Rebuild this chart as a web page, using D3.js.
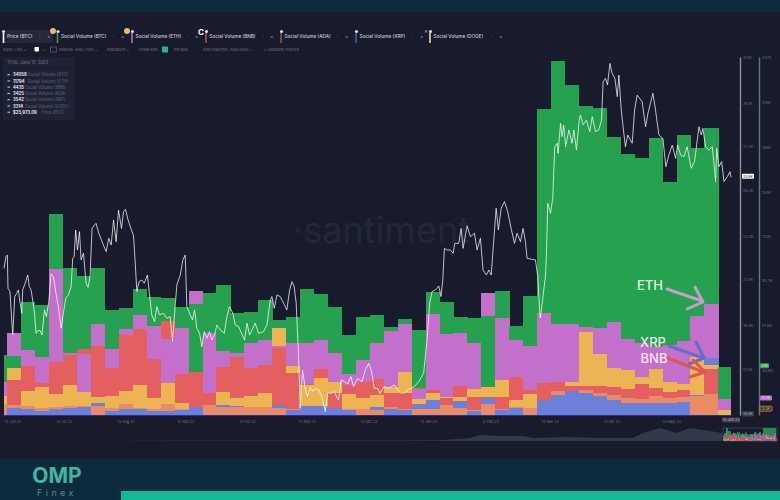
<!DOCTYPE html>
<meta charset="utf-8">
<style>
  html, body { margin: 0; padding: 0; background: #181b2b; }
  svg { display: block; }
  text { font-family: Inter, Roboto, sans-serif; }
</style>
<script src="https://cdn.jsdelivr.net/npm/d3@7"></script>
<svg></svg>

<script>
// weekly social volume, in thousands, one value per bar
var socialBTC = [41.4,40.9,78.2,75.9,138.5,101.7,95.9,101.7,72.5,74.1,86.7,81.7,80.5,74.8,76.6,84.4,89.7,70.2,71.3,79.4,65.6,67.9,86.7,83.5,74.3,55.2,67.9,69,61,66.2,58.7,85.1,77.7,67.9,67.2,68.3,85.8,61.6,82.3,211,244,228,213,212,192,180,177,191,161,193,184,198,33.4];
var socialETH = [23,56.4,44.9,39.8,100.5,43,42.1,62.6,45.5,59.1,69,61.4,52.4,59.8,85.6,56.4,44.4,42.6,49.9,51.8,47.6,49.5,49.5,51.8,43,28.3,38,49.5,58,62.8,18.2,69.5,55.7,56.4,49.5,84.4,66.7,51.8,47.6,70.2,62.8,62.8,61,60.3,64.4,52.4,49.5,46.7,48.3,51.1,68.3,76.4,11];
var socialBNB = [0,24.2,33.8,21.9,36.3,41.4,45.5,47.6,32.2,55.2,59.1,38.6,65.1,28.1,29.9,15.4,33.4,39.8,32.7,34.5,46.5,28.8,21.4,31.5,15,20.7,23,24.8,15.4,15.4,18.4,17.3,11.5,20,12.7,12.2,12.7,26.5,17.3,21.9,22.5,20,20,20,19.1,17.7,21.4,18.4,16.1,17.3,0,31.5,0];
var socialDOGE = [13.1,32.7,16.6,19.6,14.3,20.7,16.1,12.7,13.3,16.8,20.7,11.5,22.3,8,0,0,15.6,11.5,13.3,15,60.3,33.8,20.7,25.3,22.5,14.3,12,13.8,19.1,29.9,11,15.4,12.7,12.7,17.9,19.1,24.2,10.4,14.5,0,0,22.5,57,41.9,32.7,31.1,26.5,31.5,23,21.4,40.3,34.5,3.5];
var socialADA = [7.6,6.9,6.2,4.6,5.8,6.2,6.2,6.2,4.6,7.6,4.6,3.9,7.6,3.9,0,6.9,5.3,5.3,5.3,5.8,4.6,3.9,0,0,0,4.1,4.1,3.5,5.3,4.1,3.9,3.9,6.9,4.6,3.5,7.6,3.9,5.3,4.6,0,16.6,16.8,17.3,15,13.8,11.5,10.8,13.1,11.5,12.2,13.1,14.3,0];
var socialXRP = [0,4.6,4.1,3,3.9,4.6,5.8,8.5,3,3.9,3.9,2.5,2.5,3.5,5.8,0,6.9,6.4,0,0,6.9,3.5,6.4,6.4,4.6,3.5,0,5.3,3.9,3.5,7.6,10.4,0,9.7,3,11.5,3.5,4.6,0,10.4,13.8,16.6,15.4,13.1,10.4,8.5,8,8,8,9.2,13.8,39.1,0];

// BTC price in thousands, and the day (counted from the first tick) of each reading
var priceDay = [0,1,1.7,2,3,3.7,4.4,5.4,6.4,7.2,8.1,8.9,9.4,10.6,11.9,12.7,13.6,14.4,15.3,16.1,17.1,18.1,19.1,20.3,21.3,22.5,23.6,24.8,26.1,27.3,28.7,29.8,31,32.3,33.7,34.5,35.2,36,36.9,37.9,38.7,39.9,41.2,42.2,43.2,44.2,45.4,46.2,47.6,48.9,49.9,51.3,52.6,53.8,55,56.3,57.5,59,60,61,62.3,63.7,65,65.7,66.7,67.8,69.2,70.4,72,73,74.2,75.6,76.7,78.1,80.1,81.8,83.4,84.6,85.9,86.8,88.5,89.8,91,91.8,93.5,94.6,95.7,96.8,98.2,99.3,100.5,101.9,103.2,104.4,105.7,106.9,108.6,110.6,111.9,113.2,114.9,116.1,117.8,118.9,120.8,122,123.3,124.5,126.1,127.8,130.3,132,
  133.7,134.5,135.7,137,138.7,140.4,142,143.4,144.6,145.7,146.7,147.9,148.7,149.9,151.3,152.4,153.8,155.1,156.3,158,159.6,161.3,162.5,164.2,165.8,168,169.3,170.9,172.5,174.2,175.5,177.6,179.7,181.4,183.1,184.4,185.9,187.6,188.9,190.6,193.1,196,197.7,199.3,201,203.2,205.7,208.2,210.7,212.4,213.7,214.9,216.6,218.3,219.4,220.3,221.1,222.4,224.1,225.5,226.3,228.3,229.5,230.5,232.5,234.2,236.2,237.5,239.2,240.5,242.2,243.4,244.6,245.9,247.1,248.2,249.6,251.3,252.9,254.6,256.3,257.6,259.3,260.6,261.8,262.6,265.2,266.8,268,269,269.3,270.4,271.9,
  272.3,273,274.4,275.5,276.5,277.7,278.2,279.4,280.2,281,282,283.6,285.2,286.1,287.4,288.8,289.4,290.8,292.4,294.1,295.3,297,298.6,300,300.8,302,303,304.2,305.3,306.7,307.9,308.7,309.9,311.2,312,313.2,315.4,316.6,317.9,320.4,322.1,323.3,325.8,327.1,328.8,330.8,332.3,333.8,335.5,337.2,338.2,339.7,341.4,343,345,346.7,348.9,350.1,350.9,352.2,353.9,355.6,357.3,357.8,358.9,360.3,361.5,363.1,364.5,365];
var priceBTC = [21.89,22.4,22.47,21.02,20.88,19.86,18.99,20.66,20.8,20.95,20.37,19.93,20.95,21.24,21.6,21.09,20.95,20.51,19.93,19.06,19.18,19.18,18.99,20.08,19.79,20.44,21.65,21.53,20.8,20.22,19.28,19.93,20.58,20.73,21.09,22.33,22.4,23.56,22.69,23.49,22.26,22.55,21.24,21.06,21.53,23.63,23.78,23.85,23.42,23.13,22.91,22.62,23.2,22.91,24,23.05,24.43,23.63,24.36,24.46,24,23.63,23.34,22.4,20.88,21.31,21.38,21.24,21.6,20.8,19.86,19.57,20.22,19.86,19.93,19.71,19.79,18.7,20.22,21.17,21.6,22.26,22.47,20.22,19.86,19.64,20.08,19.28,19.06,18.48,19.13,18.84,19.13,18.77,18.99,19.42,19.2,19.06,19.79,20.22,19.93,19.42,19.35,19.13,18.77,19.5,18.99,19.2,19.5,19.06,19.13,19.42,
  20.51,20.66,20.15,20.73,20.66,20.37,20.08,20.95,21.31,21.09,20.37,18.04,15.79,17.46,16.59,16.3,16.73,16.52,16.66,16.59,16.3,15.65,16.47,16.44,16.52,16.15,17.03,16.95,16.85,17.17,16.73,17.1,16.95,17.46,17.75,17.46,16.66,16.66,16.44,16.73,16.66,16.81,16.59,16.44,16.47,16.62,16.71,16.95,17.32,18.77,20.37,20.88,20.95,21.12,20.66,21.38,22.76,22.69,22.69,22.55,22.98,22.98,23.63,22.76,23.74,23.27,23.42,22.69,23.2,21.82,21.6,21.82,21.6,23.13,24.51,23.56,24.51,24.8,24.36,23.63,22.98,23.42,23.05,23.63,23.05,22.33,22.28,22.26,21.53,19.93,19.73,20.51,21.6,
  22.4,24.72,24.29,24.94,27.19,27.34,26.9,28.21,27.63,28.14,27.19,27.92,27.34,27.92,27.05,28.35,28.57,28.14,28.35,27.85,28.5,27.85,27.92,28.35,30.02,30.17,29.88,30.82,30.39,30.17,29.37,30.31,28.79,27.77,27.19,27.7,27.34,28.79,29.44,29.15,28.06,28.64,29.52,28.79,27.7,27.55,26.32,26.83,27.26,26.68,27.26,26.83,26.76,27.19,26.25,26.54,28.06,27.7,27.99,27.19,27.05,27.19,25.67,27.12,26.32,26.54,25.67,25.88,26.1,25.86];

// axes
var xTickDays = [0,30,61,91,122,152,183,213,244,274,305,335,365];
var xTickLabels = ["13 Jun 22","13 Jul 22","13 Aug 22","12 Sep 22","13 Oct 22","12 Nov 22","13 Dec 22","12 Jan 23","12 Feb 23","14 Mar 23","14 Apr 23","14 May 23","13 Jun 23"];
var volumeTicks = [30.9,61.8,92.7,123,154,185,216,247];
var priceTicks = [15.5,17.5,19.4,21.4,23.3,25.3,27.2,29.1,31.1];

// top tabs and tooltip
var tabNames = ["Price (BTC)","Social Volume (BTC)","Social Volume (ETH)","Social Volume (BNB)","Social Volume (ADA)","Social Volume (XRP)","Social Volume (DOGE)"];
var tabColors = ["#ffffff","#2ba255","#b56cc0","#a8505e","#8f4f4f","#4a5bb0","#e6d9a8"];
var tooltipValues = ["34058","11794","4435","3425","3542","3314","$25,973.09"];
var tooltipNames = ["Social Volume (BTC)","Social Volume (ETH)","Social Volume (BNB)","Social Volume (ADA)","Social Volume (XRP)","Social Volume (DOGE)","Price (BTC)"];

// minimap, greyed history before the selected window
var overviewX = [130,400,440,450,470,480,500,523,533,567,600,633,643,660,677,690,710,722];
var overviewH = [0.3,0.5,0.7,1.5,3,6,5,5,3,4,3,3,8,13,8,13,10,8];

var WIDTH = 780, HEIGHT = 500;
var PLOT_TOP = 57, PLOT_BOTTOM = 415;
var WEEK = 7, FIRST_EDGE = 1.66, LAST_DAY = 365, BAR_COUNT = socialBTC.length;

var seriesList = [
  { values: socialBTC, color: "#28a150" },
  { values: socialETH, color: "#c36fca" },
  { values: socialBNB, color: "#e35f60" },
  { values: socialDOGE, color: "#eeb453" },
  { values: socialADA, color: "#eb8a66" },
  { values: socialXRP, color: "#6c80d9" }
];

var svg = d3.select("svg").attr("width", WIDTH).attr("height", HEIGHT);

// the bars in the reference have soft edges
var soft = svg.append("defs").append("filter").attr("id", "soft")
  .attr("x", "-2%").attr("y", "-2%").attr("width", "104%").attr("height", "104%");
soft.append("feGaussianBlur").attr("stdDeviation", 0.7);

var x = d3.scaleLinear().domain([0, LAST_DAY]).range([4, 731]);
var yVolume = d3.scaleLinear().domain([0, 247]).range([PLOT_BOTTOM, PLOT_TOP]);
var yPrice = d3.scaleLinear().domain([15.5, 31.1]).range([PLOT_BOTTOM, PLOT_TOP]);

// page bands
svg.append("rect").attr("width", WIDTH).attr("height", 12).attr("fill", "#0e2b3d");
svg.append("rect").attr("y", 459).attr("width", WIDTH).attr("height", 41).attr("fill", "#0d2b3c");
svg.append("rect").attr("x", 121).attr("y", 491).attr("width", WIDTH - 121).attr("height", 9).attr("fill", "#14b895");

// faint grid
var grid = svg.append("g").attr("stroke", "#262a3c").attr("stroke-width", 0.6).attr("stroke-dasharray", "1,3");
grid.selectAll(".h").data(priceTicks).enter().append("line")
  .attr("x1", 0).attr("x2", 735)
  .attr("y1", function(d){ return yPrice(d); })
  .attr("y2", function(d){ return yPrice(d); });
grid.selectAll(".v").data(xTickDays).enter().append("line")
  .attr("x1", function(d){ return x(d); })
  .attr("x2", function(d){ return x(d); })
  .attr("y1", PLOT_TOP).attr("y2", PLOT_BOTTOM);

// watermark
svg.append("text").attr("x", 293).attr("y", 243)
  .attr("font-size", 36).attr("fill", "#232739").attr("font-family", "Lato")
  .text("·santiment");

// bars are overlaid, not stacked: tallest at the back in every week
function drawWeek(parent, xs, ys, i) {
  var start = i === 0 ? 0 : FIRST_EDGE + WEEK * (i - 1);
  var end = Math.min(FIRST_EDGE + WEEK * i, LAST_DAY);
  var layers = seriesList
    .map(function(s){ return { v: s.values[i], color: s.color }; })
    .filter(function(d){ return d.v > 0; })
    .sort(function(a, b){ return b.v - a.v; });
  parent.selectAll(null).data(layers).enter().append("rect")
    .attr("x", xs(start))
    .attr("width", xs(end) - xs(start) + 0.3)
    .attr("y", function(d){ return ys(d.v); })
    .attr("height", function(d){ return ys(0) - ys(d.v); })
    .attr("fill", function(d){ return d.color; })
    .attr("shape-rendering", "crispEdges");
}

var barsG = svg.append("g").attr("filter", "url(#soft)");
d3.range(BAR_COUNT).forEach(function(i){ drawWeek(barsG, x, yVolume, i); });
svg.append("line").attr("x1", 3).attr("x2", 731).attr("y1", PLOT_BOTTOM + 0.5).attr("y2", PLOT_BOTTOM + 0.5)
  .attr("stroke", "#27348f").attr("stroke-width", 1);

// price line
var priceLine = d3.line()
  .x(function(d){ return x(d[0]); })
  .y(function(d){ return yPrice(d[1]); });
svg.append("path")
  .datum(d3.zip(priceDay, priceBTC))
  .attr("d", priceLine)
  .attr("fill", "none")
  .attr("stroke", "#ffffff")
  .attr("stroke-opacity", 0.72)
  .attr("stroke-width", 1)
  .attr("stroke-linejoin", "round");

// x axis, the last date sits in its own tag further down
var xAxis = d3.axisBottom(x)
  .tickValues(xTickDays.slice(0, -1))
  .tickSize(0)
  .tickFormat(function(d, i){ return xTickLabels[i]; });
var xG = svg.append("g").attr("transform", "translate(0," + (PLOT_BOTTOM + 2) + ")").call(xAxis);
xG.select(".domain").remove();
xG.selectAll("text").attr("font-size", 3.7).attr("fill", "#6d7284").attr("font-family", "Inter, Roboto, sans-serif");
xG.select(".tick:first-of-type text").attr("text-anchor", "start");

// right axes
function rightAxis(scale, ticks, left, color, labels) {
  var axis = d3.axisRight(scale).tickValues(ticks).tickSize(0).tickPadding(3)
    .tickFormat(function(d){ return d + "K"; });
  var g = svg.append("g").attr("transform", "translate(" + left + ",0)").call(axis);
  g.select(".domain").attr("stroke", color).attr("stroke-width", 1.4);
  g.selectAll("text").attr("font-size", 3.9).attr("fill", labels).attr("font-family", "Inter, Roboto, sans-serif");
  return g;
}
rightAxis(yPrice, priceTicks.slice(1), 740, "#8d919c", "#6d7284");
rightAxis(yVolume, volumeTicks, 759, "#5a7c74", "#6d7284");

// value tags on the axes
function tag(x0, yc, w, label, fill, textColor, stroke) {
  svg.append("rect").attr("x", x0).attr("y", yc - 2.5).attr("width", w).attr("height", 5).attr("rx", 0.8)
    .attr("fill", fill).attr("stroke", stroke || "none").attr("stroke-width", 0.6);
  svg.append("text").attr("x", x0 + w / 2).attr("y", yc + 1.4).attr("text-anchor", "middle")
    .attr("font-size", 3.7).attr("fill", textColor).text(label);
}
tag(742, yPrice(25.9), 12, "25.9K", "#ffffff", "#23263a");
tag(742, 414, 12, priceTicks[0] + "K", "#3a3f50", "#aab0bd");
tag(722, 420, 18, xTickLabels[12], "#3a3f50", "#b6bbc7");
tag(760, yVolume(34), 9, "34K", "#2ba255", "#e8f5ec");
tag(760, yVolume(11.8), 12, "11.7K", "#c36fca", "#f3dcf5");
tag(760, yVolume(3.3) - 1.5, 12, "3.3K", "#3a3326", "#eeb453", "#eeb453");

// tabs
var tabX = [3.5, 57.5, 132, 206, 281, 356, 430];
var tabEndX = [39, 113, 187, 262, 337, 412, 491];
svg.append("rect").attr("x", 2).attr("y", 30).attr("width", 51).attr("height", 13).attr("rx", 1.5).attr("fill", "#24283a");
var tabs = svg.selectAll(".tab").data(tabNames).enter().append("g").attr("class", "tab");
tabs.append("rect")
  .attr("x", function(d, i){ return tabX[i] - 0.8; })
  .attr("y", 33).attr("width", 1.6).attr("height", 10)
  .attr("fill", function(d, i){ return tabColors[i]; });
tabs.append("circle")
  .attr("cx", function(d, i){ return tabX[i] + (i ? 0.5 : 0); })
  .attr("cy", 31.5).attr("r", 1.6).attr("fill", "#d9dbe6");
tabs.append("text")
  .attr("x", function(d, i){ return tabX[i] + 3.5; })
  .attr("y", 38.4).attr("font-size", 4.7).attr("font-weight", 500).attr("fill", "#c9ccd6")
  .text(function(d){ return d; });
tabs.append("text")
  .attr("x", function(d, i){ return tabEndX[i]; })
  .attr("y", 38.4).attr("font-size", 5).attr("fill", "#6d7284").text(":");
tabs.append("text")
  .attr("x", function(d, i){ return tabEndX[i] + 8; })
  .attr("y", 38.4).attr("font-size", 5).attr("fill", "#8d919c").text("×");
svg.selectAll(".spot").data([53, 127]).enter().append("circle")
  .attr("cx", function(d){ return d; }).attr("cy", 31).attr("r", 3).attr("fill", "#e8b877");
svg.append("text").attr("x", 198).attr("y", 34.5).attr("font-size", 8).attr("font-weight", 700).attr("fill", "#fff").text("C");
svg.append("text").attr("x", 424).attr("y", 33).attr("font-size", 6).attr("fill", "#b6bbc7").text("×");

// option row
var optionLabels = ["Style: Line  ⌄","⌄","Interval: Auto (12h)  ⌄","Indicators  ⌄","Show axis","Pin axis","Axis max/min: Auto/Auto  ⌄","×  Combine metrics"];
var optionX = [3, 42, 59, 107, 139, 174, 203, 264];
svg.selectAll(".opt").data(optionLabels).enter().append("text")
  .attr("x", function(d, i){ return optionX[i]; })
  .attr("y", 51).attr("font-size", 3.9).attr("fill", "#6f7486")
  .text(function(d){ return d; });
svg.append("rect").attr("x", 34.5).attr("y", 47).attr("width", 4.5).attr("height", 4.5).attr("rx", 0.8).attr("fill", "#fff");
svg.append("rect").attr("x", 50.5).attr("y", 47).attr("width", 6).attr("height", 5).attr("fill", "none").attr("stroke", "#6f7486").attr("stroke-width", 0.6);
svg.append("rect").attr("x", 162).attr("y", 46.5).attr("width", 6).attr("height", 6).attr("rx", 0.6).attr("fill", "#21b598");

// tooltip
var tipBox = svg.append("g");
tipBox.append("rect").attr("x", 3).attr("y", 57).attr("width", 72).attr("height", 63).attr("fill", "#1f2234");
tipBox.append("line").attr("x1", 3).attr("x2", 75).attr("y1", 68).attr("y2", 68).attr("stroke", "#171a28");
tipBox.append("text").attr("x", 7.5).attr("y", 64).attr("font-size", 4.2).attr("fill", "#7a7f90").text("17:00, June 13, 2023");
var tipRows = tipBox.selectAll(".row").data(tooltipValues).enter().append("g")
  .attr("transform", function(d, i){ return "translate(7.5," + (75 + i * 6.25) + ")"; });
tipRows.append("rect").attr("y", -0.8).attr("width", 2.5).attr("height", 1).attr("fill", "#cfd2da");
tipRows.append("text").attr("x", 5.5).attr("y", 1.4).attr("font-size", 4.2).attr("font-weight", 700).attr("fill", "#e4e6ec")
  .text(function(d){ return d; });
tipRows.append("text")
  .attr("x", function(d){ return 5.5 + d.length * 2.75 + 1; })
  .attr("y", 1.4).attr("font-size", 4.2).attr("fill", "#626779")
  .text(function(d, i){ return tooltipNames[i]; });

// minimap
var overviewArea = d3.area()
  .x(function(d){ return d[0]; })
  .y0(441)
  .y1(function(d){ return 441 - d[1]; });
svg.append("path").datum(d3.zip(overviewX, overviewH)).attr("d", overviewArea).attr("fill", "#33384a");
var xMini = d3.scaleLinear().domain([0, LAST_DAY]).range([723, 777]);
var yMini = d3.scaleLinear().domain([0, 130]).range([441, 428]).clamp(true);
var miniG = svg.append("g").attr("opacity", 0.85);
d3.range(BAR_COUNT).forEach(function(i){ drawWeek(miniG, xMini, yMini, i); });
svg.append("rect").attr("x", 723).attr("y", 428).attr("width", 54).attr("height", 13).attr("fill", "none").attr("stroke", "#5b6072").attr("stroke-width", 0.5);

// hand drawn notes on top of the chart
var notes = [
  { label: "ETH", tx: 650, ty: 290, color: "#c3a0c8", text: "#e3f5e6", path: [[667,289],[702,301]], head: [[695,287],[703,302],[687,309]] },
  { label: "XRP", tx: 653, ty: 347, color: "#5f70c8", text: "#f2e6f6", path: [[669,346],[703,358]], head: [[696,342],[704,358],[689,364]] },
  { label: "BNB", tx: 654, ty: 363, color: "#df5656", text: "#f7e4ee", path: [[668,358],[703,372]], head: [[693,360],[705,372],[690,377]] }
];
var noteLine = d3.line();
var noteG = svg.selectAll(".note").data(notes).enter().append("g");
noteG.append("path").attr("d", function(d){ return noteLine(d.path); });
noteG.append("path").attr("d", function(d){ return noteLine(d.head); });
noteG.selectAll("path")
  .attr("fill", "none").attr("stroke-width", 3).attr("stroke-linecap", "round").attr("stroke-linejoin", "round")
  .attr("stroke", function(){ return d3.select(this.parentNode).datum().color; });
noteG.append("text")
  .attr("x", function(d){ return d.tx; }).attr("y", function(d){ return d.ty; })
  .attr("text-anchor", "middle").attr("font-size", 13).attr("font-weight", 500)
  .attr("font-family", "Lato, sans-serif")
  .attr("fill", function(d){ return d.text; })
  .text(function(d){ return d.label; });

// logo
svg.append("text").attr("x", 57).attr("y", 483).attr("text-anchor", "middle")
  .attr("font-size", 21).attr("font-weight", 700).attr("font-family", "Lato, sans-serif").attr("fill", "#3fb8a0").text("OMP");
svg.append("text").attr("x", 57).attr("y", 496).attr("text-anchor", "middle")
  .attr("font-size", 9).attr("letter-spacing", 3.4).attr("font-family", "Lato, sans-serif").attr("fill", "#4f8d8d").text("Finex");
</script>
